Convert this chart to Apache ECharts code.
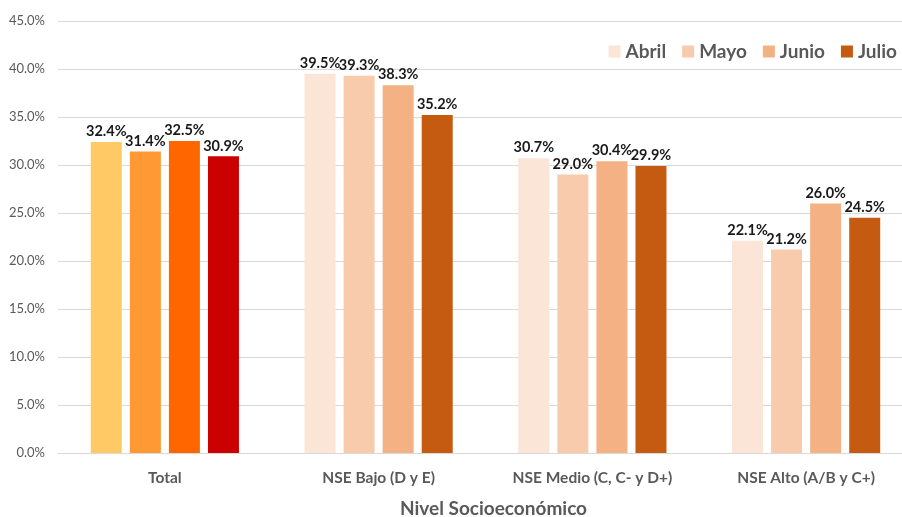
<!DOCTYPE html>
<html>
<head>
<meta charset="utf-8">
<script src="https://cdn.jsdelivr.net/npm/echarts@6/dist/echarts.min.js"></script>
<style>
  html, body { margin: 0; padding: 0; background: #fff; }
  #chart { width: 902px; height: 517px; }
</style>
</head>
<body>
<div id="chart"></div>
<script>
// 数据
const categories = ['Total', 'NSE Bajo (D y E)', 'NSE Medio (C, C- y D+)', 'NSE Alto (A/B y C+)'];
const months = ['Abril', 'Mayo', 'Junio', 'Julio'];
const abril = [32.4, 39.5, 30.7, 22.1];
const mayo = [31.4, 39.3, 29.0, 21.2];
const junio = [32.5, 38.3, 30.4, 26.0];
const julio = [30.9, 35.2, 29.9, 24.5];
const yTicks = [0, 5, 10, 15, 20, 25, 30, 35, 40, 45];

// 颜色：月份色 + Total 组的特殊颜色
const monthColors = ['#FBE5D6', '#F8CBAD', '#F4B183', '#C55A11'];
const totalColors = ['#FFC966', '#FF9933', '#FF6600', '#CC0000'];

const chart = echarts.init(document.getElementById('chart'));
const font = 'Lato, "Open Sans", sans-serif';

function makeSeries(name, values, idx) {
    return {
        name: name,
        type: 'bar',
        barWidth: 31,
        barGap: '26%',
        itemStyle: { color: monthColors[idx] },
        data: values.map((v, i) => i === 0
            ? { value: v, itemStyle: { color: totalColors[idx] } }
            : v),
        label: {
            show: true,
            position: 'top',
            distance: 3,
            formatter: p => p.value.toFixed(1) + '%',
            color: '#1a1a1a',
            fontWeight: 'bold',
            fontSize: 14.5,
            fontFamily: font
        }
    };
}

chart.setOption({
    backgroundColor: '#fff',
    animation: false,
    legend: {
        data: months,
        right: 0,
        top: 37,
        itemWidth: 12,
        itemHeight: 12,
        itemGap: 16,
        icon: 'rect',
        textStyle: { color: '#595959', fontSize: 19, fontWeight: 'bold', fontFamily: font }
    },
    grid: { left: 58, top: 21, width: 855, height: 432, outerBoundsMode: 'none', containLabel: false },
    xAxis: {
        type: 'category',
        data: categories,
        name: 'Nivel Socioeconómico',
        nameLocation: 'middle',
        nameGap: 46,
        nameTextStyle: { color: '#595959', fontSize: 19, fontWeight: 'bold', fontFamily: font, padding: [0, 0, 0, 16] },
        axisTick: { show: false },
        axisLine: { lineStyle: { color: '#d9d9d9' } },
        axisLabel: { interval: 0, color: '#595959', fontSize: 15.5, fontWeight: 'bold', fontFamily: font, margin: 17 }
    },
    yAxis: {
        type: 'value',
        min: yTicks[0],
        max: yTicks[yTicks.length - 1],
        interval: 5,
        axisLine: { show: false },
        axisTick: { show: false },
        splitLine: { lineStyle: { color: '#d9d9d9' } },
        axisLabel: {
            color: '#595959',
            fontSize: 13,
            fontFamily: font,
            margin: 13,
            formatter: v => v.toFixed(1) + '%'
        }
    },
    series: [
        makeSeries('Abril', abril, 0),
        makeSeries('Mayo', mayo, 1),
        makeSeries('Junio', junio, 2),
        makeSeries('Julio', julio, 3)
    ]
});
</script>
</body>
</html>
